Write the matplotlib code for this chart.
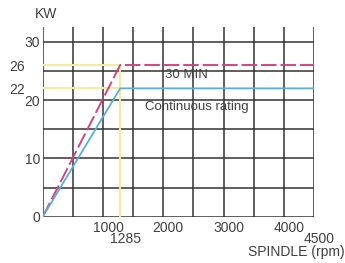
"""Spindle power vs speed chart (30 min / continuous rating)."""

import matplotlib

matplotlib.use("Agg")
import matplotlib.pyplot as plt
import matplotlib.transforms as mtransforms
import numpy as np

# Data
base_speed_rpm = 1285
max_speed_rpm = 4500
speed_30min = [0, 1285, 4500]
power_30min = [0, 26, 26]
speed_cont = [0, 1285, 4500]
power_cont = [0, 22, 22]

x_ticks = [1000, 2000, 3000, 4000]
x_ticks_low = [1285, 4500]
y_ticks = [0, 10, 20, 30]
y_ticks_extra = [26, 22]

TEXT = "#404040"
GRID = "#333333"
MAGENTA = "#d2457f"
CYAN = "#5aaedb"
YELLOW = "#f1eaa0"

plt.rcParams["font.family"] = ["Liberation Sans", "DejaVu Sans"]

fig = plt.figure(figsize=(3.45, 2.63), dpi=100)
ax = fig.add_axes([0.124, 0.176, 0.786, 0.721])
ax.set_xlim(0, max_speed_rpm)
ax.set_ylim(0, 32.5)

# grid: every 500 rpm, every 5 kW
ax.vlines(np.arange(0, max_speed_rpm + 1, 500), 0, 32.5, color=GRID, lw=1.1, zorder=1)
ax.hlines(np.arange(0, 31, 5), 0, max_speed_rpm, color=GRID, lw=1.1, zorder=1)

# yellow guide lines at base speed
ax.plot([0, base_speed_rpm], [power_30min[1]] * 2, color=YELLOW, lw=1.5, zorder=2)
ax.plot([0, base_speed_rpm], [power_cont[1]] * 2, color=YELLOW, lw=1.5, zorder=2)
ax.plot([base_speed_rpm] * 2, [0, power_30min[1]], color=YELLOW, lw=1.5, zorder=2)

ax.plot(speed_30min, power_30min, color=MAGENTA, lw=1.4, dashes=(8, 2), zorder=3)
ax.plot(speed_cont, power_cont, color=CYAN, lw=1.3, zorder=3)

ax.text(2030, 24.3, "30 MIN", fontsize=9.5, color=TEXT, va="center", zorder=4)
ax.text(1700, 18.8, "Continuous rating", fontsize=9.5, color=TEXT, va="center", zorder=4)

for s in ax.spines.values():
    s.set_visible(False)
ax.set_xticks([])
ax.set_yticks(y_ticks)
ax.set_yticklabels([str(v) for v in y_ticks], fontsize=10, color=TEXT)
ax.tick_params(axis="y", length=0, pad=2)

# offset labels for 22 / 26
ax.set_yticks(y_ticks_extra, minor=True)
ax.set_yticklabels([str(v) for v in y_ticks_extra], minor=True, fontsize=10, color=TEXT)
ax.tick_params(axis="y", which="minor", length=0, pad=13)

xtrans = ax.get_xaxis_transform()
for v in x_ticks:
    off = mtransforms.ScaledTranslation(5 / 100, -11 / 100, fig.dpi_scale_trans)
    ax.text(v, 0, str(v), transform=xtrans + off, ha="center", va="center",
            fontsize=10, color=TEXT)
for v in x_ticks_low:
    off = mtransforms.ScaledTranslation(5 / 100, -22.5 / 100, fig.dpi_scale_trans)
    ax.text(v, 0, str(v), transform=xtrans + off, ha="center", va="center",
            fontsize=10, color=TEXT)

fig.text(46 / 345, 1 - 14 / 263, "KW", ha="center", va="center", fontsize=10, color=TEXT)
fig.text(296 / 345, 1 - 252 / 263, "SPINDLE (rpm)", ha="center", va="center",
         fontsize=10, color=TEXT)

fig.savefig("out.png", dpi=100)
